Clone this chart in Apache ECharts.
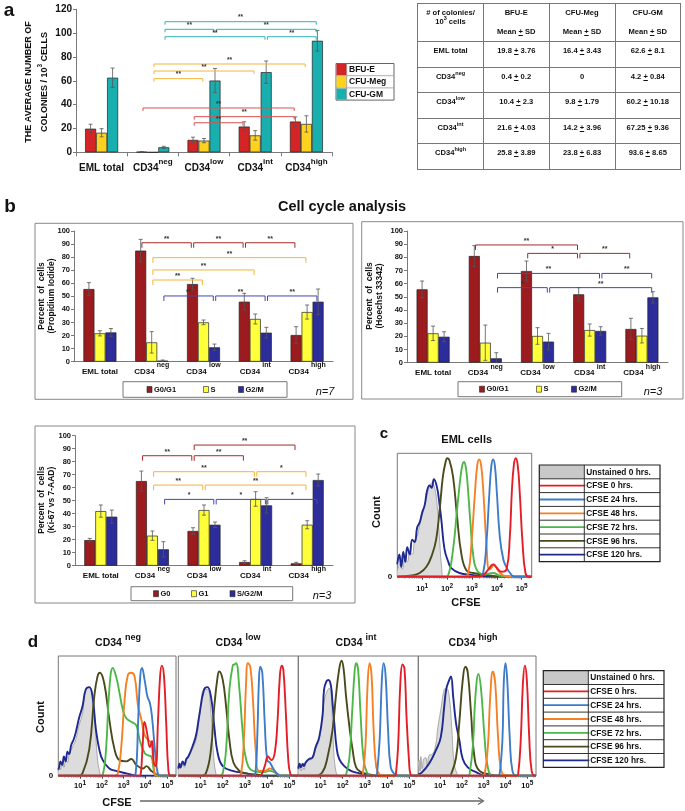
<!DOCTYPE html>
<html><head><meta charset="utf-8">
<script src="https://cdn.jsdelivr.net/npm/echarts@6/dist/echarts.min.js"></script>
<style>
html,body{margin:0;padding:0;background:#fff;}
#chart{position:absolute;left:0;top:0;width:685px;height:811px;}
#tbl{position:absolute;left:417px;top:3px;border-collapse:collapse;table-layout:fixed;width:263px;font:bold 7.6px 'Liberation Sans',Arial,sans-serif;color:#111;}
#tbl td{border:1px solid #777;text-align:center;vertical-align:top;padding:0;}
#tbl tr.h td{height:33px;padding-top:4px;line-height:9px;}
#tbl tr.r td{height:20.6px;padding-top:4px;line-height:9px;}
#tbl sup{font-size:5.5px;line-height:0;}
#tbl .ms{display:block;margin-top:10px;}
</style></head>
<body>
<div id="chart"></div>
<table id="tbl"></table>
<script>
// ---------------- DATA ----------------
const cats = ['EML total','CD34neg','CD34low','CD34int','CD34high'];

// panel a: colonies / 10^3 cells
const aNames = ['BFU-E','CFU-Meg','CFU-GM'];
const bfuMean = [19.8,0.4,10.4,21.6,25.8];
const bfuSD   = [3.76,0.2,2.3,4.03,3.89];
const megMean = [16.4,0,9.8,14.2,23.8];
const megSD   = [3.43,0,1.79,3.96,6.83];
const gmMean  = [62.6,4.2,60.2,67.25,93.6];
const gmSD    = [8.1,0.84,10.18,9.36,8.65];
// brackets: [fromCat, fromSeries, toCat, toSeries, y, label]
const aBrackets = [
  [1,2,4,2,109.6,'**'],[1,2,2,2,103.2,'**'],[2,2,4,2,103.2,'**'],[1,2,3,2,97,'**'],[3,2,4,2,97,'**'],
  [1,1,4,1,74.1,'**'],[1,1,3,1,68.2,'**'],[1,1,2,1,61.8,'**'],
  [1,0,4,0,37.2,'**'],[2,0,4,0,29.9,'**'],[2,0,3,0,24.8,'**']
];

// panel b (Propidium Iodide, n=7)
const piNames = ['G0/G1','S','G2/M'];
const piG0G1 = [55.6,85,59.4,45.9,20.4];
const piG0G1Err = [4.9,8.6,4.4,6.4,6.4];
const piS = [21.7,14.8,30.1,32.7,38];
const piSErr = [2,8.2,1.8,3.8,5.4];
const piG2M = [22.4,0.8,11,22.2,45.9];
const piG2MErr = [3,0.5,2.5,4.1,9.7];
const piBrackets = [
  [1,0,2,0,91,'**'],[2,0,3,0,91,'**'],[3,0,4,0,91,'**'],
  [1,1,4,1,79.6,'**'],[1,1,3,1,70.2,'**'],[1,1,2,1,62.5,'**'],
  [1,2,2,2,50.3,'**'],[2,2,3,2,50.3,'**'],[3,2,4,2,50.3,'**']
];

// panel b (Hoechst 33342, n=3)
const hoG0G1 = [55.7,81,69.6,51.9,25.6];
const hoG0G1Err = [6.3,7.9,7.6,5.1,8.1];
const hoS = [22.3,15.2,20.3,24.8,20.5];
const hoSErr = [5.5,13.4,6.3,4.6,5.5];
const hoG2M = [19.7,3.3,16,24.1,49.6];
const hoG2MErr = [3.8,4.3,6.3,3.2,4.3];
const hoBrackets = [
  [1,0,3,0,89.4,'**'],[2,0,3,0,83,'*'],[3,0,4,0,83,'**'],
  [1,2,3,2,67.8,'**'],[3,2,4,2,67.8,'**'],[1,2,2,2,57,'*'],[2,2,4,2,57,'**']
];

// panel b (Ki-67 vs 7-AAD, n=3)
const kiNames = ['G0','G1','S/G2/M'];
const kiG0 = [19.7,65.1,26.7,2.8,1.8];
const kiG0Err = [1.3,7.7,2.5,1,0.8];
const kiG1 = [42,23.1,42.8,51.3,31.5];
const kiG1Err = [4.7,3.6,3.9,5.6,3.1];
const kiSG2M = [37.7,12.6,31.5,46.4,65.9];
const kiSG2MErr = [5.1,5.9,2.1,5.9,4.6];
const kiBrackets = [
  [2,0,4,0,92.8,'**'],[1,0,2,0,84.6,'**'],[2,0,3,0,84.6,'**'],
  [1,1,3,1,72.3,'**'],[3,1,4,1,72.3,'*'],[1,1,2,1,62,'**'],[2,1,4,1,62,'**'],
  [1,2,2,2,51,'*'],[2,2,3,2,51,'*'],[3,2,4,2,51,'*']
];

// CFSE histograms (x = log10 CFSE, y = % of modal count)
const cfseNames = ['Unstained 0 hrs.','CFSE 0 hrs.','CFSE 24 hrs.','CFSE 48 hrs.','CFSE 72 hrs.','CFSE 96 hrs.','CFSE 120 hrs.'];
const cfseTicks = [1,2,3,4,5];
// panel c: EML cells
const c_unst = [[0,5],[0.1,10],[0.2,6],[0.3,14],[0.4,12],[0.5,20],[0.6,18],[0.7,30],[0.8,33],[0.9,42],[1.0,50],[1.1,58],[1.2,66],[1.3,74],[1.4,76],[1.5,72],[1.6,58],[1.7,30],[1.78,8],[1.86,0],[5.4,0]];
const c_0h   = [[0,0],[3.3,0],[3.5,2],[3.7,7],[3.85,10],[4.0,7],[4.19,4],[4.39,6],[4.52,32],[4.6,68],[4.68,90],[4.76,96],[4.84,90],[4.92,68],[5.03,28],[5.15,3],[5.28,0],[5.4,0]];
const c_24h  = [[0,0],[3.3,0],[3.45,3],[3.58,27],[3.7,68],[3.78,90],[3.85,95],[3.92,90],[4.0,68],[4.12,32],[4.26,14],[4.4,7],[4.53,3],[4.7,0],[5.4,0]];
const c_48h  = [[0,0],[2.7,0],[2.85,3],[2.98,27],[3.12,68],[3.21,90],[3.29,95],[3.37,90],[3.46,68],[3.58,27],[3.69,6],[3.78,7],[3.88,10],[3.97,8],[4.05,5],[4.26,1],[4.5,0],[5.4,0]];
const c_72h  = [[0,0],[1.9,0],[2.04,1],[2.24,22],[2.4,54],[2.54,81],[2.62,91],[2.68,93],[2.74,90],[2.8,81],[2.93,46],[3.07,14],[3.24,4],[3.5,2],[3.85,3],[4.1,1],[4.4,0],[5.4,0]];
const c_96h  = [[0,0],[0.6,1],[0.9,3],[1.17,8],[1.4,18],[1.56,30],[1.7,54],[1.83,81],[1.93,92],[2.01,96],[2.1,94],[2.24,81],[2.4,49],[2.57,19],[2.78,5],[3.05,3],[3.7,1],[4.2,0],[5.4,0]];
const c_120h = [[0,10],[0.08,18],[0.16,8],[0.24,20],[0.32,12],[0.4,24],[0.5,18],[0.6,30],[0.7,28],[0.8,40],[0.9,44],[1.0,52],[1.1,58],[1.2,70],[1.3,74],[1.38,72],[1.47,79],[1.6,72],[1.7,58],[1.77,46],[1.9,22],[2.05,12],[2.17,7],[2.5,3],[3.0,1.5],[3.6,0],[5.4,0]];
// panel d: CD34neg
const dneg_unst = [[0,4],[0.05,9],[0.1,5],[0.18,11],[0.26,7],[0.34,14],[0.42,11],[0.5,18],[0.6,22],[0.7,26],[0.8,30],[0.95,42],[1.11,52],[1.26,72],[1.42,74],[1.57,69],[1.65,50],[1.73,30],[1.8,14],[1.88,5],[2.0,0],[5.4,0]];
const dneg_0h   = [[0,0],[3.7,0],[3.78,1],[3.86,22],[3.96,45],[4.07,36],[4.2,24],[4.3,29],[4.38,11],[4.47,8],[4.57,44],[4.67,83],[4.75,92],[4.85,83],[4.95,44],[5.05,5],[5.15,0],[5.4,0]];
const dneg_24h  = [[0,0],[3.4,0],[3.55,2],[3.66,44],[3.76,83],[3.84,90],[3.96,80],[4.09,66],[4.2,61],[4.3,49],[4.43,22],[4.54,4],[4.66,0],[5.4,0]];
const dneg_48h  = [[0,0],[2.6,0],[2.73,2],[2.88,22],[3.04,63],[3.19,84],[3.35,86],[3.5,83],[3.66,58],[3.81,47],[3.96,34],[4.12,30],[4.27,27],[4.38,8],[4.5,0],[5.4,0]];
const dneg_72h  = [[0,0],[1.9,0],[2.04,1],[2.19,22],[2.34,72],[2.5,90],[2.65,83],[2.81,69],[2.96,55],[3.12,48],[3.35,45],[3.58,42],[3.73,30],[3.96,19],[4.12,17],[4.27,16],[4.38,5],[4.5,0],[5.4,0]];
const dneg_96h  = [[0,0],[0.9,0],[1.11,2],[1.42,22],[1.65,66],[1.8,83],[1.91,86],[2.11,77],[2.34,47],[2.58,22],[2.81,13],[3.12,12],[3.35,14],[3.58,9],[3.89,6],[4.04,8],[4.27,4],[4.5,1],[4.66,0],[5.4,0]];
const dneg_120h = [[0,5],[0.05,8],[0.1,12],[0.18,9],[0.26,16],[0.34,12],[0.42,20],[0.49,18],[0.6,26],[0.7,30],[0.8,36],[0.95,48],[1.11,58],[1.26,72],[1.42,74],[1.57,66],[1.73,38],[1.88,22],[2.04,13],[2.34,6],[2.65,4],[3.12,2],[3.6,0],[5.4,0]];
// panel d: CD34low
const dlow_unst = [[0,5],[0.05,9],[0.1,6],[0.2,10],[0.28,7],[0.36,12],[0.45,15],[0.63,22],[0.8,30],[0.94,47],[1.16,72],[1.31,72],[1.47,52],[1.57,22],[1.69,2],[1.8,0],[5.4,0]];
const dlow_0h   = [[0,0],[3.6,0],[3.74,1],[3.89,8],[4.04,16],[4.19,13],[4.34,19],[4.46,44],[4.57,83],[4.65,92],[4.73,88],[4.84,52],[4.95,13],[5.05,1],[5.17,0],[5.4,0]];
const dlow_24h  = [[0,0],[3.3,0],[3.47,2],[3.56,36],[3.63,80],[3.69,91],[3.78,86],[3.89,44],[4.0,13],[4.12,11],[4.27,6],[4.42,2],[4.57,0],[5.4,0]];
const dlow_48h  = [[0,0],[2.7,0],[2.83,2],[2.95,30],[3.05,77],[3.13,94],[3.24,91],[3.36,63],[3.48,22],[3.63,4],[3.9,4],[4.12,6],[4.34,4],[4.57,0],[5.4,0]];
const dlow_72h  = [[0,0],[1.85,0],[2.0,2],[2.15,22],[2.3,72],[2.45,92],[2.53,93],[2.6,94],[2.75,72],[2.9,36],[3.06,13],[3.36,4],[3.81,3],[4.12,4],[4.42,2],[4.65,0],[5.4,0]];
const dlow_96h  = [[0,0],[1.0,0],[1.24,2],[1.47,22],[1.62,58],[1.77,83],[1.84,87],[2.0,80],[2.15,58],[2.3,30],[2.48,11],[2.75,4],[3.06,2],[3.5,1],[3.96,0],[5.4,0]];
const dlow_120h = [[0,6],[0.05,10],[0.1,7],[0.2,12],[0.28,9],[0.36,14],[0.45,16],[0.63,24],[0.8,34],[0.94,50],[1.16,72],[1.31,74],[1.47,66],[1.62,41],[1.77,19],[2.0,8],[2.45,4],[3.06,2],[3.5,0],[5.4,0]];
// panel d: CD34int
const dint_unst = [[0,5],[0.06,8],[0.12,4],[0.2,7],[0.26,5],[0.33,10],[0.48,13],[0.63,14],[0.78,22],[0.94,30],[1.09,52],[1.16,62],[1.28,70],[1.39,73],[1.48,68],[1.57,30],[1.69,4],[1.85,0],[5.4,0]];
const dint_0h   = [[0,0],[4.35,0],[4.39,1],[4.49,24],[4.59,77],[4.69,93],[4.78,89],[4.87,49],[4.98,13],[5.05,1],[5.18,0],[5.4,0]];
const dint_24h  = [[0,0],[3.5,0],[3.54,1],[3.66,30],[3.76,80],[3.84,94],[3.93,83],[4.04,38],[4.16,7],[4.34,1],[4.5,0],[5.4,0]];
const dint_48h  = [[0,0],[2.85,0],[2.9,1],[3.02,24],[3.12,77],[3.21,94],[3.3,83],[3.39,38],[3.51,7],[3.66,1],[3.8,0],[5.4,0]];
const dint_72h  = [[0,0],[2.1,0],[2.15,1],[2.3,15],[2.42,52],[2.53,86],[2.6,94],[2.69,89],[2.8,52],[2.93,15],[3.08,3],[3.28,0],[5.4,0]];
const dint_96h  = [[0,0],[0.8,0],[1.09,3],[1.31,15],[1.54,38],[1.69,66],[1.84,89],[1.95,96],[2.04,89],[2.15,66],[2.3,41],[2.45,21],[2.6,7],[2.83,3],[3.2,1],[3.5,0],[5.4,0]];
const dint_120h = [[0,6],[0.06,10],[0.12,7],[0.2,10],[0.25,8],[0.33,11],[0.48,14],[0.63,15],[0.78,24],[0.94,32],[1.09,50],[1.16,72],[1.27,79],[1.36,80],[1.47,75],[1.54,61],[1.62,44],[1.72,24],[1.84,14],[2.07,8],[2.37,4],[2.75,2],[3.2,0],[5.4,0]];
// panel d: CD34high
const dhigh_unst = [[0,12],[0.03,13],[0.08,4],[0.12,16],[0.18,6],[0.25,14],[0.34,15],[0.42,8],[0.49,17],[0.65,18],[0.8,26],[0.88,38],[1.03,55],[1.19,72],[1.29,73],[1.42,66],[1.54,38],[1.65,10],[1.8,1],[1.88,0],[5.4,0]];
const dhigh_0h   = [[0,0],[4.5,0],[4.58,1],[4.7,30],[4.8,77],[4.89,92],[4.98,80],[5.09,32],[5.2,4],[5.35,0],[5.4,0]];
const dhigh_24h  = [[0,0],[3.65,0],[3.73,1],[3.86,30],[3.92,77],[4.0,94],[4.08,80],[4.2,30],[4.32,4],[4.5,0],[5.4,0]];
const dhigh_48h  = [[0,0],[2.95,0],[3.04,1],[3.19,24],[3.3,66],[3.42,87],[3.53,77],[3.66,32],[3.81,4],[4.04,0],[5.4,0]];
const dhigh_72h  = [[0,0],[2.3,0],[2.35,1],[2.5,24],[2.62,66],[2.76,85],[2.88,72],[3.04,32],[3.19,7],[3.42,0],[5.4,0]];
const dhigh_96h  = [[0,0],[1.4,0],[1.5,1],[1.73,15],[1.88,44],[2.04,80],[2.16,91],[2.27,86],[2.42,52],[2.58,15],[2.81,4],[3.27,1],[3.6,0],[5.4,0]];
const dhigh_120h = [[0,1],[0.18,3],[0.49,10],[0.8,21],[1.03,32],[1.19,58],[1.29,73],[1.42,80],[1.5,83],[1.6,66],[1.73,44],[1.88,30],[2.04,14],[2.27,7],[2.65,3],[3.1,0],[5.4,0]];

// ---------------- STYLE ----------------
const F = 'Liberation Sans';
const aColors = ['#D42426','#FFD21F','#1AAFAF'];
const aBrColors = ['#D9534F','#F5B43C','#2EB3B8'];
const bColors = ['#9B1B1E','#FFFF3A','#2C2C9A'];
const bBrColors = ['#A52A2A','#F5B335','#4545B5'];
const cfseColors = ['#DCDCDC','#E41E26','#3D7CC9','#F58025','#4DB848','#4B4A1C','#1E2A8F'];

// ---------------- TABLE (panel a) ----------------
(function(){
  const fmt = (m,s)=> s===0 && m===0 ? '0' : (m + ' <u>+</u> ' + s);
  const catHtml = c => c.indexOf('CD34')===0 ? 'CD34<sup>'+c.slice(4)+'</sup>' : c;
  let h = '<colgroup><col style="width:66px"><col style="width:65.5px"><col style="width:66px"><col style="width:65.5px"></colgroup>';
  h += '<tr class="h"><td># of colonies/<br>10<sup>3</sup> cells</td>';
  aNames.forEach(n=>{ h += '<td>'+n+'<span class="ms">Mean <u>+</u> SD</span></td>'; });
  h += '</tr>';
  cats.forEach((c,i)=>{
    h += '<tr class="r"><td>'+catHtml(c)+'</td><td>'+fmt(bfuMean[i],bfuSD[i])+'</td><td>'+fmt(megMean[i],megSD[i])+'</td><td>'+fmt(gmMean[i],gmSD[i])+'</td></tr>';
  });
  document.getElementById('tbl').innerHTML = h;
})();

// ---------------- HELPERS ----------------
function catFmt(space){
  return v => v.indexOf('CD34')===0 ? '{m|CD34'+(space?' ':'')+'}{s|'+v.slice(4)+'}' : '{m|'+v+'}';
}
function richCat(ms, ss, lh){
  return {m:{fontSize:ms,fontWeight:'bold',fontFamily:F,color:'#111',lineHeight:lh,verticalAlign:'bottom'},
          s:{fontSize:ss,fontWeight:'bold',fontFamily:F,color:'#111',verticalAlign:'top'}};
}
function barSeries(gi, name, data, color, bw){
  return {type:'bar', name:name, xAxisIndex:gi, yAxisIndex:gi, data:data, barWidth:bw, barGap:'0%', silent:true,
    itemStyle:{color:color, borderColor:'#222', borderWidth:0.7}, z:2};
}
function errSeries(gi, means, errs, sIdx, bw){
  return {type:'custom', xAxisIndex:gi, yAxisIndex:gi, silent:true, z:5, encode:{x:0,y:1},
    data: means.map((m,i)=>[i,m,errs[i]]),
    renderItem:(p,api)=>{
      const c=api.value(0), m=api.value(1), e=api.value(2);
      if (e<=0) return null;
      const top=api.coord([c,m+e]), bot=api.coord([c,Math.max(0,m-e)]);
      const x=top[0]+(sIdx-1)*bw;
      const st={stroke:'#555',lineWidth:0.8};
      return {type:'group',children:[
        {type:'line',shape:{x1:x,y1:top[1],x2:x,y2:bot[1]},style:st},
        {type:'line',shape:{x1:x-2,y1:top[1],x2:x+2,y2:top[1]},style:st},
        {type:'line',shape:{x1:x-2,y1:bot[1],x2:x+2,y2:bot[1]},style:st}]};
    }};
}
function bracketSeries(gi, brackets, colors, bw, tick, fs){
  return {type:'custom', xAxisIndex:gi, yAxisIndex:gi, silent:true, z:6, encode:{x:0,y:1},
    data: brackets.map(b=>[b[0],b[4]]),
    renderItem:(p,api)=>{
      const b=brackets[p.dataIndex];
      const p1=api.coord([b[0],b[4]]), p2=api.coord([b[2],b[4]]);
      const x1=p1[0]+(b[1]-1)*bw+1.2, x2=p2[0]+(b[3]-1)*bw-1.2, y=p1[1];
      return {type:'group',children:[
        {type:'polyline',shape:{points:[[x1,y+tick],[x1,y],[x2,y],[x2,y+tick]]},style:{stroke:colors[b[1]],lineWidth:1,fill:null}},
        {type:'text',style:{text:b[5],x:(x1+x2)/2,y:y-0.5,align:'center',verticalAlign:'bottom',fontSize:fs,fontWeight:'bold',fontFamily:F,fill:'#333'}}]};
    }};
}
function catAxis(gi, ms, ss, lh, space, ticks, margin){
  return {type:'category', gridIndex:gi, data:cats,
    axisLine:{lineStyle:{color:'#7a7a7a',width:1}},
    axisTick:{show:ticks,length:4,lineStyle:{color:'#7a7a7a'}},
    axisLabel:{margin:margin, interval:0, formatter:catFmt(space), rich:richCat(ms,ss,lh)}};
}
function valAxis(gi, max, interval, fs){
  return {type:'value', gridIndex:gi, min:0, max:max, interval:interval,
    axisLine:{show:true,lineStyle:{color:'#7a7a7a'}}, axisTick:{show:true,length:3,lineStyle:{color:'#7a7a7a'}},
    splitLine:{show:false},
    axisLabel:{fontSize:fs,fontWeight:'bold',fontFamily:F,color:'#111',margin:4}};
}
function histXAxis(gi, margin){
  return {type:'value', gridIndex:gi, min:0, max:5.4, interval:1,
    axisLine:{show:true,lineStyle:{color:'#777'}}, axisTick:{show:true,length:3,lineStyle:{color:'#444'}},
    splitLine:{show:false},
    axisLabel:{margin:margin, showMaxLabel:false, showMinLabel:false,
      formatter: v => cfseTicks.indexOf(Math.round(v*1000)/1000)>=0 ? '{b|10}{s|'+Math.round(v)+'}' : '',
      rich:{b:{fontSize:7.5,fontWeight:'bold',fontFamily:F,color:'#111',lineHeight:10,verticalAlign:'bottom'},
            s:{fontSize:6.5,fontWeight:'bold',fontFamily:F,color:'#111',verticalAlign:'top'}}}};
}
function histYAxis(gi, showZero){
  return {type:'value', gridIndex:gi, min:0, max:100, interval:100,
    axisLine:{show:false}, axisTick:{show:false}, splitLine:{show:false},
    axisLabel:{show:showZero, margin:5, fontSize:8, fontWeight:'bold', fontFamily:F, color:'#111', formatter: v => v===0?'0':''}};
}
const logMinor = [];
for (let k=0;k<6;k++) for (let m=2;m<=9;m++){ const v=k+Math.log10(m); if (v<5.4) logMinor.push(v); }
function minorSeries(gi){
  return {type:'custom', xAxisIndex:gi, yAxisIndex:gi, silent:true, z:1, encode:{x:0,y:1},
    data: logMinor.map(v=>[v,0]),
    renderItem:(p,api)=>{ const pt=api.coord([api.value(0),0]);
      return {type:'line',shape:{x1:pt[0],y1:pt[1],x2:pt[0],y2:pt[1]+2},style:{stroke:'#555',lineWidth:0.6}}; }};
}
function histSeries(gi, curves){
  // curves order: unstained, 0h, 24h, 48h, 72h, 96h, 120h
  const out=[];
  curves.forEach((d,i)=>{
    const s={type:'line', name:cfseNames[i], xAxisIndex:gi, yAxisIndex:gi, data:d, smooth:0.45, symbol:'none', silent:true,
      z: i===0 ? 2 : 10-i};
    if (i===0){ s.lineStyle={color:'#8C8C8C',width:0.7}; s.areaStyle={color:'#DCDCDC',opacity:1}; }
    else s.lineStyle={color:cfseColors[i],width:1.9};
    out.push(s);
  });
  out.push(minorSeries(gi));
  return out;
}

// ---------------- GRIDS ----------------
const grids = [
  {left:76, top:9.3, width:256, height:143},          // a
  {left:74, top:231, width:259, height:130.7},        // b PI
  {left:407, top:231, width:261, height:131.7},       // b Hoechst
  {left:75, top:435.7, width:258, height:130},        // b Ki-67
  {left:397.3, top:453.3, width:134.4, height:123.4, show:true, borderColor:'#777', borderWidth:1}, // c
  {left:58.3, top:656, width:117.7, height:119.7, show:true, borderColor:'#777', borderWidth:1},
  {left:178.3, top:656, width:120, height:119.7, show:true, borderColor:'#777', borderWidth:1},
  {left:298.3, top:656, width:120, height:119.7, show:true, borderColor:'#777', borderWidth:1},
  {left:418.3, top:656, width:117.7, height:119.7, show:true, borderColor:'#777', borderWidth:1}
];
const xAxes = [
  catAxis(0,10,8,15,false,true,5.5),
  catAxis(1,8,7,14,true,false,0),
  catAxis(2,8,7,14,true,false,0.5),
  catAxis(3,8,7,14,true,false,0),
  histXAxis(4,6),histXAxis(5,4),histXAxis(6,4),histXAxis(7,4),histXAxis(8,4)
];
const yAxes = [
  valAxis(0,120,20,10), valAxis(1,100,10,7.5), valAxis(2,100,10,7.5), valAxis(3,100,10,7.5),
  histYAxis(4,true), histYAxis(5,true), histYAxis(6,false), histYAxis(7,false), histYAxis(8,false)
];

let series = [];
// a
const BWa=11;
[[bfuMean,bfuSD],[megMean,megSD],[gmMean,gmSD]].forEach((d,i)=>{
  series.push(barSeries(0,aNames[i],d[0],aColors[i],BWa));
  series.push(errSeries(0,d[0],d[1],i,BWa));
});
series.push(bracketSeries(0,aBrackets,aBrColors,BWa,3,6.5));
// b
const BWb=11;
function bPanel(gi, sets, brackets){
  sets.forEach((d,i)=>{ series.push(barSeries(gi,d[2],d[0],bColors[i],BWb)); series.push(errSeries(gi,d[0],d[1],i,BWb)); });
  series.push(bracketSeries(gi,brackets,bBrColors,BWb,5,7));
}
bPanel(1,[[piG0G1,piG0G1Err,'G0/G1'],[piS,piSErr,'S'],[piG2M,piG2MErr,'G2/M']],piBrackets);
bPanel(2,[[hoG0G1,hoG0G1Err,'G0/G1 '],[hoS,hoSErr,'S '],[hoG2M,hoG2MErr,'G2/M ']],hoBrackets);
bPanel(3,[[kiG0,kiG0Err,'G0'],[kiG1,kiG1Err,'G1'],[kiSG2M,kiSG2MErr,'S/G2/M']],kiBrackets);
// histograms
series = series.concat(histSeries(4,[c_unst,c_0h,c_24h,c_48h,c_72h,c_96h,c_120h]));
series = series.concat(histSeries(5,[dneg_unst,dneg_0h,dneg_24h,dneg_48h,dneg_72h,dneg_96h,dneg_120h]));
series = series.concat(histSeries(6,[dlow_unst,dlow_0h,dlow_24h,dlow_48h,dlow_72h,dlow_96h,dlow_120h]));
series = series.concat(histSeries(7,[dint_unst,dint_0h,dint_24h,dint_48h,dint_72h,dint_96h,dint_120h]));
series = series.concat(histSeries(8,[dhigh_unst,dhigh_0h,dhigh_24h,dhigh_48h,dhigh_72h,dhigh_96h,dhigh_120h]));

// ---------------- GRAPHIC (labels, frames, legends) ----------------
const G = [];
function T(x,y,text,fs,opts){
  opts=opts||{};
  const e={type:'text', x:x, y:y, z:20, silent:true,
    style:{text:text, fontSize:fs, fontWeight:opts.w||'bold', fontStyle:opts.style||'normal', fontFamily:F, fill:opts.fill||'#111',
      align:opts.align||'center', verticalAlign:opts.va||'middle'}};
  if (opts.rot) e.rotation=opts.rot;
  if (opts.rich) e.style.rich=opts.rich;
  G.push(e);
}
function R(x,y,w,h,stroke,fill,lw){ G.push({type:'rect',z:1,silent:true,shape:{x:x,y:y,width:w,height:h},style:{stroke:stroke||null,fill:fill||'transparent',lineWidth:lw||1}}); }
function L(x1,y1,x2,y2,stroke,lw){ G.push({type:'line',z:21,silent:true,shape:{x1:x1,y1:y1,x2:x2,y2:y2},style:{stroke:stroke,lineWidth:lw||1}}); }

// panel letters and titles
T(9,11,'a',19,{});
T(10,207,'b',19,{});
T(384,434,'c',15,{});
T(33,642,'d',17,{});
T(342,207,'Cell cycle analysis',14.5,{});

// panel a y title
const supRich = {n:{fontSize:9,fontWeight:'bold',fontFamily:F,fill:'#111',lineHeight:13,verticalAlign:'bottom'}, u:{fontSize:6.5,fontWeight:'bold',fontFamily:F,fill:'#111',verticalAlign:'top'}};
T(29,82,'THE AVERAGE NUMBER OF',9,{rot:Math.PI/2});
T(43,82,'{n|COLONIES / 10}{u|3}{n| CELLS}',9,{rot:Math.PI/2,rich:supRich});

// panel a legend
R(336,63.5,58,36.6,'#666',null,1);
aNames.forEach((n,i)=>{
  const y=63.5+i*12.2;
  G.push({type:'rect',z:2,silent:true,shape:{x:336.5,y:y+0.5,width:10.2,height:11.2},style:{fill:aColors[i]}});
  if(i>0) L(336,y,394,y,'#999',0.8);
  T(349,y+6.3,n,8.5,{align:'left'});
});
L(346.7,63.5,346.7,100.1,'#999',0.8);

// b frames
R(35,223.3,318,176,'#888',null,1);
R(361.7,221.7,321.3,177.3,'#888',null,1);
R(35,426,320,177,'#888',null,1);

// b y titles
T(42,296,'Percent  of  cells',8.5,{rot:Math.PI/2});
T(52,296,'(Propidium Iodide)',8.5,{rot:Math.PI/2});
T(370,296,'Percent  of  cells',8.5,{rot:Math.PI/2});
T(380,296,'(Hoechst 33342)',8.5,{rot:Math.PI/2});
T(42,500,'Percent  of  cells',8.5,{rot:Math.PI/2});
T(52,500,'(Ki-67 vs 7-AAD)',8.5,{rot:Math.PI/2});

// b legends
function bLegend(bx,by,bw,bh,items,names){
  R(bx,by,bw,bh,'#777',null,1);
  const cy=by+bh/2;
  items.forEach((px,i)=>{
    G.push({type:'rect',z:3,silent:true,shape:{x:px,y:cy-3,width:5,height:6},style:{fill:bColors[i],stroke:'#222',lineWidth:0.6}});
    T(px+7,cy,names[i],7.5,{align:'left'});
  });
}
bLegend(123,381.7,164,15.6,[147,203.5,238.5],piNames);
bLegend(458,381.7,163.7,15,[479.5,536.5,571.5],piNames);
bLegend(131,586.7,161.7,14,[153.5,191.5,230],kiNames);
T(325,391.5,'n=7',11,{w:'normal',style:'italic'});
T(653,391.5,'n=3',11,{w:'normal',style:'italic'});
T(322,596,'n=3',11,{w:'normal',style:'italic'});

// panel c labels
T(466.7,440,'EML cells',11,{});
T(377,512,'Count',11,{rot:Math.PI/2});
T(466,603,'CFSE',11,{});

// panel d labels
const dRich = {m:{fontSize:10.5,fontWeight:'bold',fontFamily:F,fill:'#111',lineHeight:16,verticalAlign:'bottom'}, s:{fontSize:9,fontWeight:'bold',fontFamily:F,fill:'#111',verticalAlign:'top'}};
[[118,'neg'],[238,'low'],[356,'int'],[473,'high']].forEach(t=>{ T(t[0],641,'{m|CD34 }{s|'+t[1]+'}',10.5,{rich:dRich}); });
T(41,717,'Count',11,{rot:Math.PI/2});
T(117,803,'CFSE',11,{});
L(140,801,483,801,'#666',1.3);
G.push({type:'polyline',z:21,silent:true,shape:{points:[[478,797.5],[483.5,801],[478,804.5]]},style:{stroke:'#666',lineWidth:1.2,fill:null}});

// CFSE legend tables
function cfseLegend(x,y,w,lw,rh){
  const h=rh*cfseNames.length;
  cfseNames.forEach((n,i)=>{
    const ry=y+i*rh;
    if (i===0) G.push({type:'rect',z:2,silent:true,shape:{x:x,y:ry,width:lw,height:rh},style:{fill:'#C8C8C8'}});
    else G.push({type:'line',z:3,silent:true,shape:{x1:x,y1:ry+rh/2,x2:x+lw+1,y2:ry+rh/2},style:{stroke:cfseColors[i],lineWidth:1.8}});
    if (i>0) L(x,ry,x+w,ry,'#333',1);
    T(x+lw+2,ry+rh/2+0.5,n,8.3,{align:'left'});
  });
  L(x+lw,y,x+lw,y+h,'#333',1);
  G.push({type:'rect',z:22,silent:true,shape:{x:x,y:y,width:w,height:h},style:{stroke:'#222',fill:'transparent',lineWidth:1.2}});
}
cfseLegend(539.3,465,120.7,45,13.8);
cfseLegend(543.3,670.7,120.7,45,13.8);

const option = {
  animation:false,
  backgroundColor:'#fff',
  textStyle:{fontFamily:F},
  grid:grids, xAxis:xAxes, yAxis:yAxes, series:series, graphic:G
};
const chart = echarts.init(document.getElementById('chart'));
chart.setOption(option);
</script>
</body></html>
